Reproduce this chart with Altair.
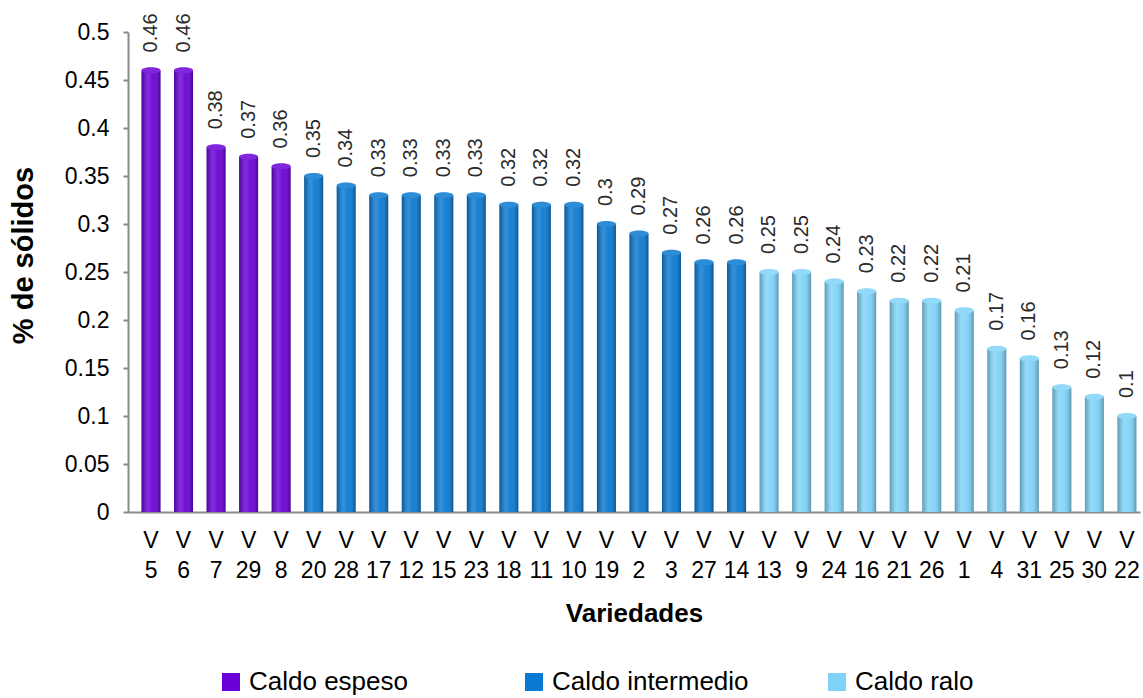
import altair as alt
import pandas as pd

# Varieties in display order, with their % of solids and broth class
varieties = ["V 5", "V 6", "V 7", "V 29", "V 8", "V 20", "V 28", "V 17", "V 12", "V 15",
             "V 23", "V 18", "V 11", "V 10", "V 19", "V 2", "V 3", "V 27", "V 14", "V 13",
             "V 9", "V 24", "V 16", "V 21", "V 26", "V 1", "V 4", "V 31", "V 25", "V 30", "V 22"]
solids = [0.46, 0.46, 0.38, 0.37, 0.36, 0.35, 0.34, 0.33, 0.33, 0.33,
          0.33, 0.32, 0.32, 0.32, 0.30, 0.29, 0.27, 0.26, 0.26, 0.25,
          0.25, 0.24, 0.23, 0.22, 0.22, 0.21, 0.17, 0.16, 0.13, 0.12, 0.10]
groups = ["Caldo espeso"] * 5 + ["Caldo intermedio"] * 14 + ["Caldo ralo"] * 12
group_names = ["Caldo espeso", "Caldo intermedio", "Caldo ralo"]
group_colors = ["#6A00D6", "#0A79D1", "#80D3F8"]
y_ticks = [0, 0.05, 0.1, 0.15, 0.2, 0.25, 0.3, 0.35, 0.4, 0.45, 0.5]

df = pd.DataFrame({"variedad": varieties, "solidos": solids, "grupo": groups})

FONT = "Liberation Sans"
AXIS_GRAY = "#8A8A8A"

x_enc = alt.X(
    "variedad:N",
    sort=None,
    scale=alt.Scale(paddingInner=0.416, paddingOuter=0.263, align=0.79),
    axis=alt.Axis(
        title="Variedades",
        titleFont=FONT, titleFontSize=26, titleFontWeight="bold", titleColor="#000",
        titleY=109, titleBaseline="alphabetic",
        labelExpr="split(datum.label, ' ')",
        labelFont=FONT, labelFontSize=23, labelColor="#000", labelLineHeight=30,
        labelAngle=0, labelPadding=17, ticks=False,
        domainColor=AXIS_GRAY, domainWidth=2,
    ),
)
y_enc = alt.Y(
    "solidos:Q",
    scale=alt.Scale(domain=[0, 0.5], nice=False, zero=True),
    axis=alt.Axis(
        title="% de sólidos",
        titleFont=FONT, titleFontSize=29, titleFontWeight="bold", titleColor="#000",
        titleX=-96, titleY=223, titleBaseline="alphabetic", titleAngle=270,
        values=y_ticks, format=".2~f",
        labelFont=FONT, labelFontSize=23, labelColor="#000", labelPadding=14,
        tickColor=AXIS_GRAY, tickSize=5, tickWidth=2,
        domainColor=AXIS_GRAY, domainWidth=2, grid=False,
    ),
)

color_scale = alt.Scale(domain=group_names, range=group_colors)

bars = alt.Chart(df).mark_bar().encode(
    x=x_enc,
    y=y_enc,
    color=alt.Color(
        "grupo:N",
        scale=color_scale,
        legend=alt.Legend(
            title=None, orient="none", legendX=90, legendY=637,
            direction="horizontal", columns=3, gridAlign="all", columnPadding=75,
            symbolType="square", symbolSize=324, symbolStrokeWidth=0,
            labelFont=FONT, labelFontSize=26, labelColor="#000",
            labelOffset=5, labelLimit=300,
        ),
    ),
)

# Cylinder shading laid over each bar
shade = alt.LinearGradient(
    gradient="linear", x1=0, x2=1, y1=0, y2=0,
    stops=[
        alt.GradientStop(color="rgba(0,0,0,0.28)", offset=0),
        alt.GradientStop(color="rgba(255,255,255,0.18)", offset=0.35),
        alt.GradientStop(color="rgba(255,255,255,0.05)", offset=0.6),
        alt.GradientStop(color="rgba(0,0,0,0.30)", offset=1),
    ],
)
shading = alt.Chart(df).mark_bar(fill=shade).encode(x=x_enc, y=y_enc)

# Elliptical caps on top of the cylinders
ellipse = "M -1 0 A 1 0.32 0 1 1 1 0 A 1 0.32 0 1 1 -1 0 Z"
caps = alt.Chart(df).mark_point(shape=ellipse, filled=True, size=361, opacity=1).encode(
    x=x_enc, y="solidos:Q",
    color=alt.Color("grupo:N", scale=color_scale, legend=None),
)
cap_light = alt.Chart(df).mark_point(
    shape=ellipse, filled=True, size=361, color="white", opacity=0.15
).encode(x=x_enc, y="solidos:Q")

labels = alt.Chart(df).mark_text(
    angle=270, align="left", baseline="middle", dx=18,
    font=FONT, fontSize=20, color="#2A2A2A",
).encode(
    x=x_enc, y="solidos:Q",
    text=alt.Text("solidos:Q", format=".2~f"),
)

chart = alt.layer(bars, shading, caps, cap_light, labels).properties(
    width=1012,
    height=480,
    autosize=alt.AutoSizeParams(type="none"),
    padding={"left": 128, "top": 32, "right": 3, "bottom": 186},
    background="white",
).configure_view(stroke=None)

chart.save("out.html", embed_options={"renderer": "svg", "actions": False})
